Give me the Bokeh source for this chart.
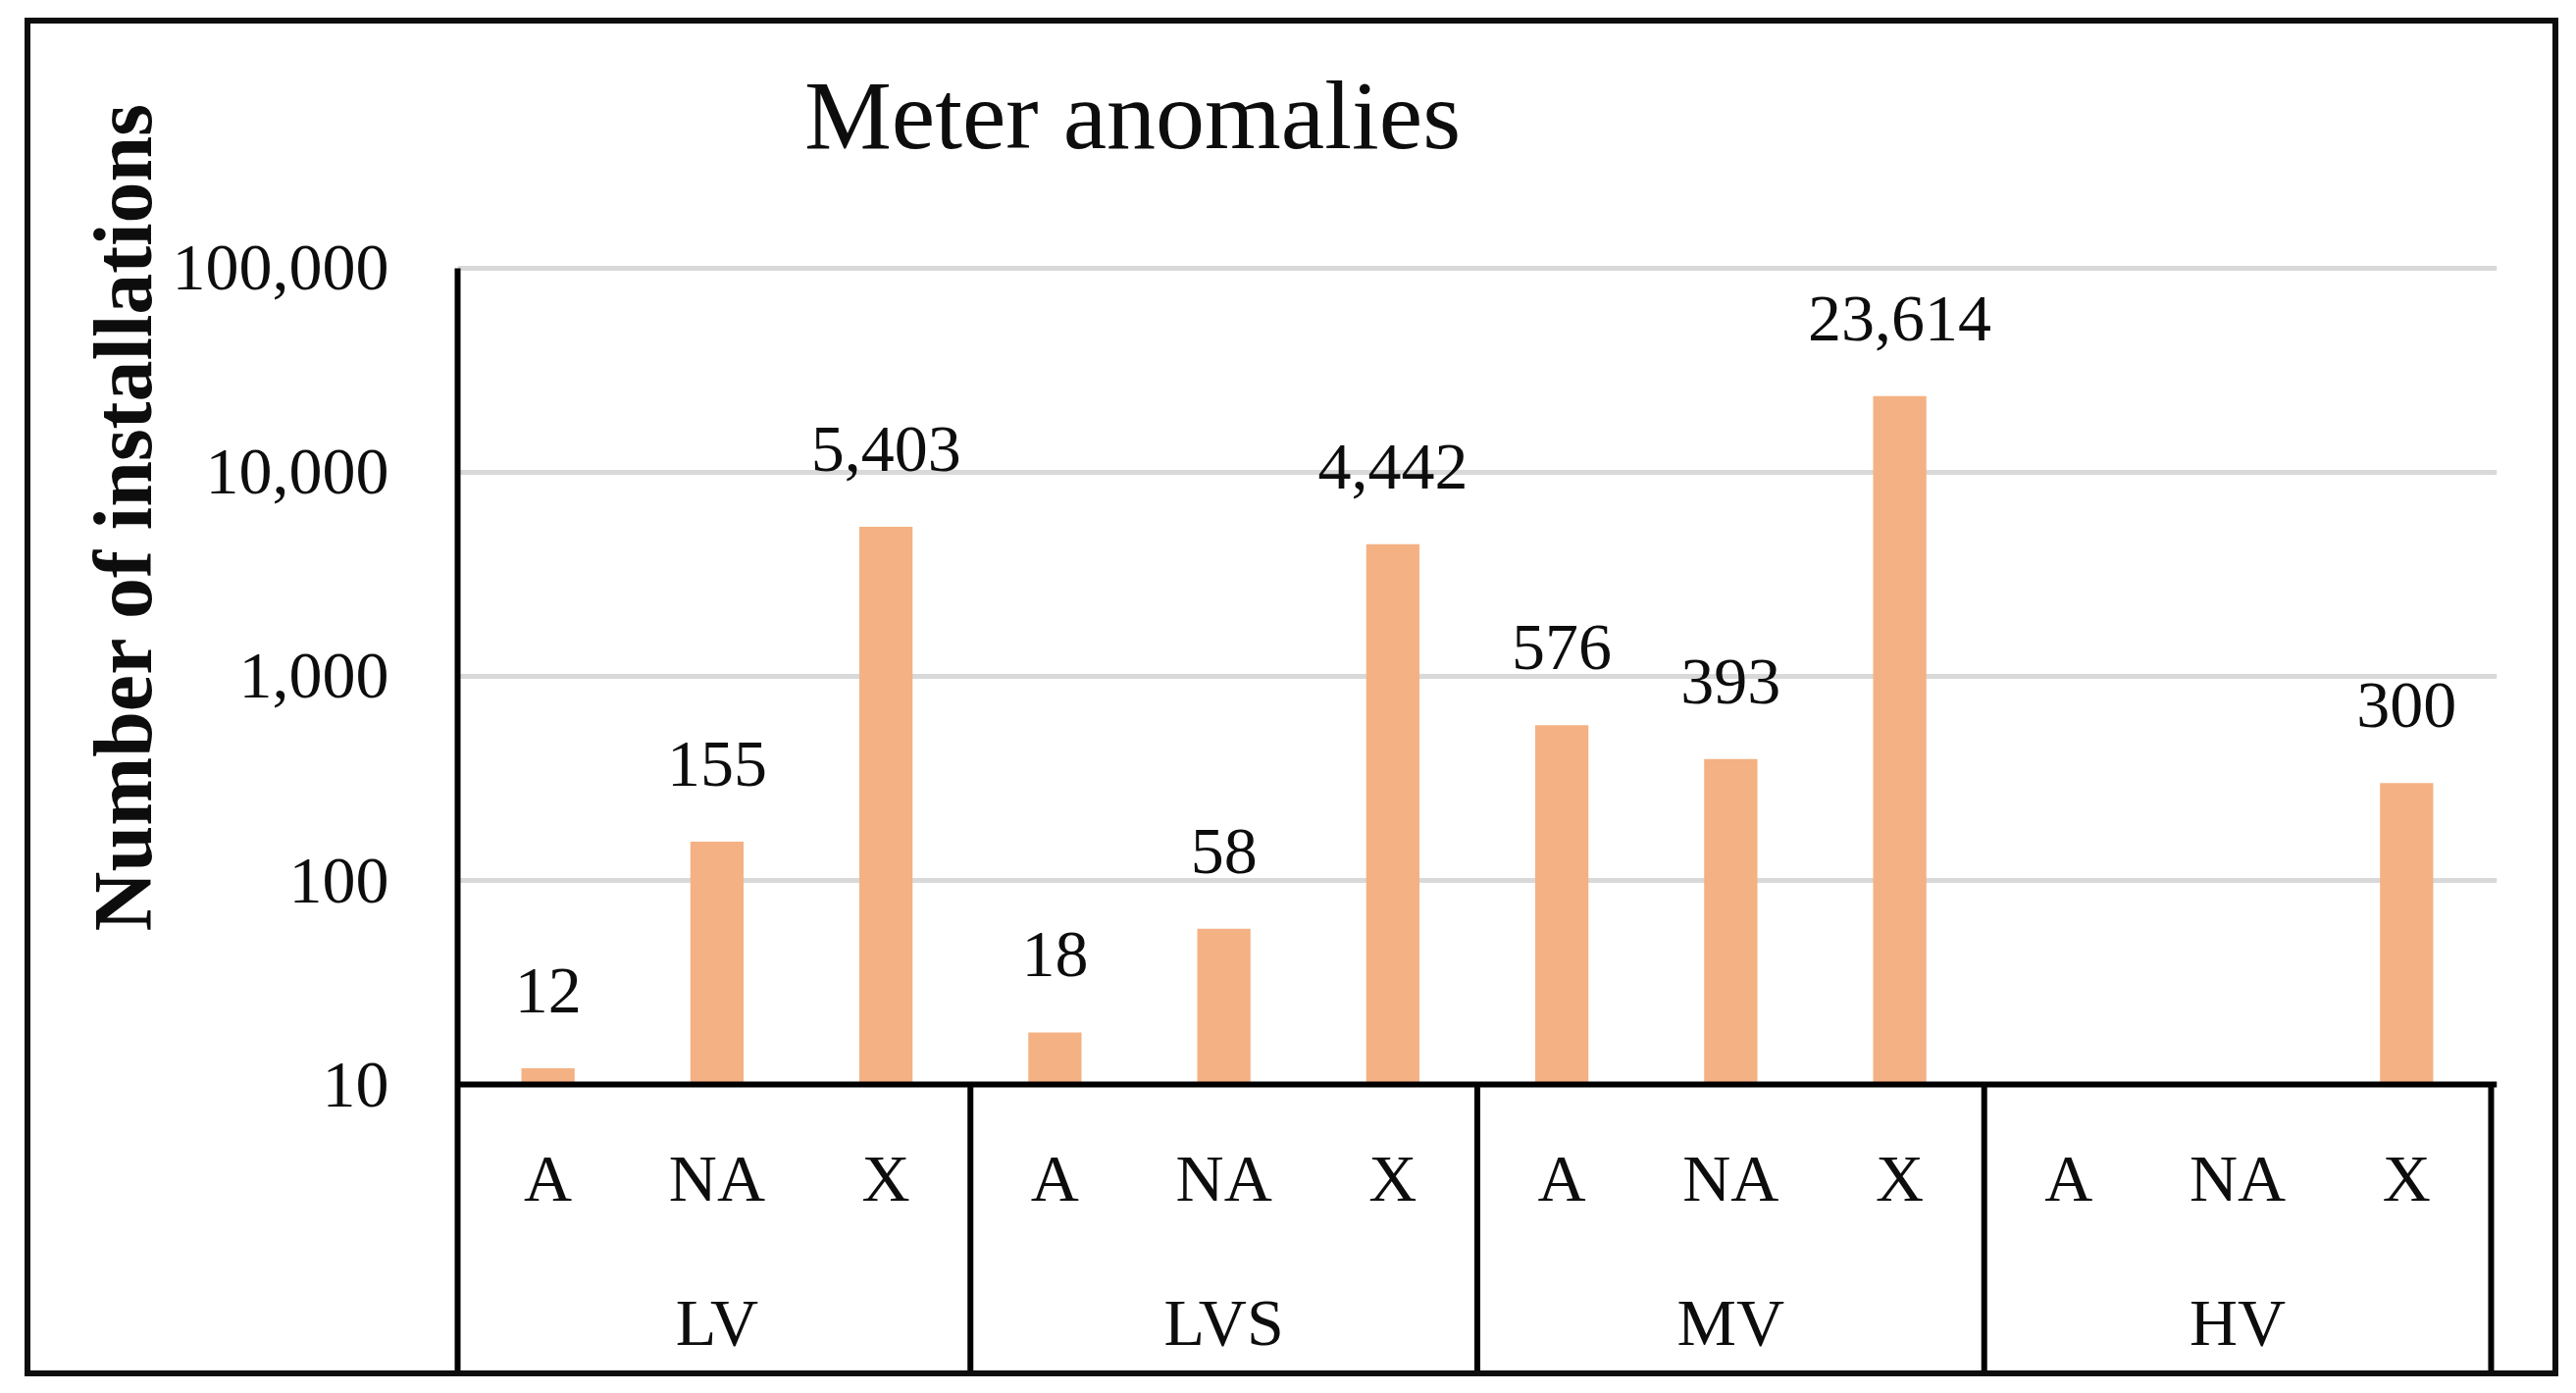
import math
from bokeh.plotting import figure
from bokeh.models import (FactorRange, Range1d, FixedTicker, NumeralTickFormatter,
                          Span, Label, Title, ColumnDataSource)
from bokeh.core.properties import value
from bokeh.embed import file_html
from bokeh.resources import INLINE

# ---------------- data ----------------
title_text = "Meter anomalies"
y_label = "Number of installations"
groups = ["LV", "LVS", "MV", "HV"]
subcats = ["A", "NA", "X"]
lv_values = [12, 155, 5403]
lvs_values = [18, 58, 4442]
mv_values = [576, 393, 23614]
hv_values = [None, None, 300]
y_ticks = [10, 100, 1000, 10000, 100000]

series = dict(zip(groups, [lv_values, lvs_values, mv_values, hv_values]))
factors = [(g, s) for g in groups for s in subcats]

bar_x, bar_top, bar_txt = [], [], []
for g in groups:
    for s, v in zip(subcats, series[g]):
        if v is not None:
            bar_x.append((g, s))
            bar_top.append(v)
            bar_txt.append(f"{v:,}")
bars = ColumnDataSource(dict(x=bar_x, top=bar_top, txt=bar_txt))

# ---------------- style ----------------
FONT = "Liberation Serif"
INK = "#0d0d0d"
BAR = "#f4b183"
W, H = 2571, 1373

x_range = FactorRange(*factors, group_padding=0, factor_padding=0,
                      range_padding=0.035, range_padding_units="absolute")
# frame covers the full canvas height; 208 px per decade
y_range = Range1d(0.3947, 1574000)

p = figure(width=W, height=H, x_range=x_range, y_range=y_range,
           y_axis_type="log", x_axis_location=None,
           output_backend="svg", toolbar_location=None,
           min_border_left=435, min_border_right=57,
           min_border_top=0, min_border_bottom=0)
p.outline_line_color = None
p.background_fill_color = "white"
p.border_fill_color = "white"
# outer frame of the whole chart drawn as a CSS outline (does not change the canvas size)
p.styles = {"position": "absolute", "left": "31px", "top": "24px",
            "outline": f"6px solid {INK}", "outline-offset": "0px"}

yax = p.yaxis[0]
yax.bounds = (y_range.start, y_ticks[-1])
yax.ticker = FixedTicker(ticks=y_ticks, minor_ticks=[])
yax.formatter = NumeralTickFormatter(format="0,0")
yax.major_tick_line_color = None
yax.minor_tick_line_color = None
yax.major_label_text_font = FONT
yax.major_label_text_font_size = "68px"
yax.major_label_text_color = INK
yax.major_label_standoff = 64
yax.axis_line_color = "black"
yax.axis_line_width = 6

p.xgrid.visible = False
p.ygrid.ticker = FixedTicker(ticks=y_ticks[1:])
p.ygrid.grid_line_color = "#d9d9d9"
p.ygrid.grid_line_width = 5

# bars
p.vbar(x="x", top="top", bottom=y_ticks[0], width=0.315, source=bars,
       fill_color=BAR, line_color=None)

# data labels
p.text(x="x", y="top", text="txt", source=bars, y_offset=-79,
       text_align="center", text_baseline="alphabetic",
       text_font=value(FONT), text_font_size="68px", text_color=INK)

# baseline (category axis line)
p.add_layout(Span(location=y_ticks[0], dimension="width",
                  line_color="black", line_width=6))

# category table separators
n = len(subcats)
sep_x = [n * (k + 1) for k in range(len(groups))]
p.segment(x0=sep_x, x1=sep_x, y0=[y_ticks[0]] * len(sep_x),
          y1=[y_range.start] * len(sep_x), line_color="black", line_width=6)

# category labels
p.text(x=factors, y=[y_ticks[0]] * len(factors), text=[f[1] for f in factors],
       y_offset=95, text_align="center", text_baseline="middle",
       text_font=value(FONT), text_font_size="68px", text_color=INK)
p.text(x=groups, y=[y_ticks[0]] * len(groups), text=groups,
       y_offset=242, text_align="center", text_baseline="middle",
       text_font=value(FONT), text_font_size="68px", text_color=INK)

# chart title (inside the frame area, above the plot)
p.add_layout(Label(x=1123, y=93, x_units="canvas", y_units="canvas",
                   text=title_text, text_align="center", text_baseline="alphabetic",
                   text_font=FONT, text_font_size="100px", text_color=INK))

# y-axis title
p.add_layout(Title(text=y_label, align="right", offset=80, vertical_align="bottom",
                   standoff=2, text_font=FONT, text_font_size="84px",
                   text_font_style="bold", text_color=INK), "left")

open("out.html", "w").write(file_html(p, INLINE))
